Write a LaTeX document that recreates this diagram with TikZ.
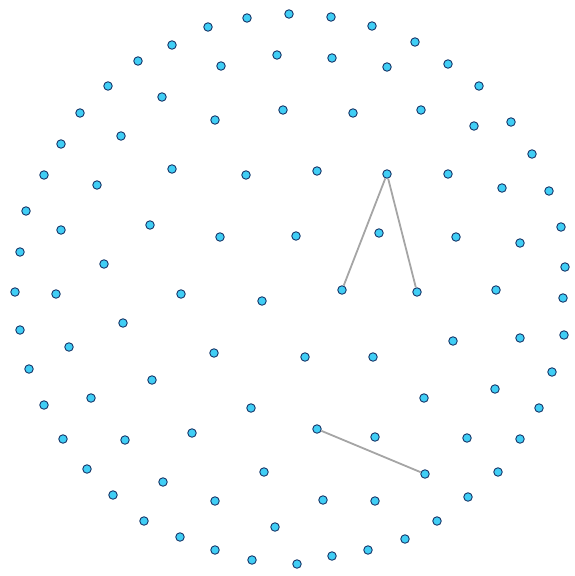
\documentclass[tikz,border=0pt]{standalone}
\usepackage{xcolor}
\usepackage{tikz}

\definecolor{dotfill}{RGB}{64,206,245}
\definecolor{dotline}{RGB}{25,55,105}
\definecolor{linkgray}{RGB}{165,165,165}

\begin{document}
\begin{tikzpicture}[x=1pt,y=-1pt,
  dot/.style={circle,inner sep=0pt,minimum size=8.5pt,fill=dotfill,draw=dotline,line width=0.9pt},
  link/.style={linkgray,line width=1.8pt}]
  \useasboundingbox (0,0) rectangle (575,576);
  % outer ring
  \foreach \x/\y [count=\i] in {289/14,247/18,331/17,208/27,372/26,172/45,415/42,138/61,448/64,
      108/86,479/86,80/113,511/122,61/144,532/154,44/175,549/191,26/211,561/227,20/252,
      565/267,15/292,563/298,20/330,564/335,29/369,552/372,44/405,539/408,63/439,520/439,
      87/469,498/472,113/495,468/497,144/521,437/521,180/537,405/539,215/550,368/550,
      252/560,332/556,297/564}
    \node[dot] (r\i) at (\x,\y) {};
  % inner dots
  \foreach \x/\y [count=\i] in {221/66,277/55,332/58,387/67,
      162/97,121/136,215/120,283/110,353/113,421/110,474/126,
      97/185,172/169,246/175,317/171,448/174,502/188,
      61/230,150/225,220/237,296/236,379/233,456/237,520/243,104/264,
      56/294,181/294,262/301,496/290,
      123/323,69/347,214/353,305/357,373/357,453/341,520/338,
      152/380,91/398,251/408,424/398,495/389,
      125/440,192/433,375/437,467/438,
      163/482,264/472,215/501,323/500,375/501,275/527}
    \node[dot] (d\i) at (\x,\y) {};
  % linked dots
  \node[dot] (apex) at (387,174) {};
  \node[dot] (legl) at (342,290) {};
  \node[dot] (legr) at (417,292) {};
  \node[dot] (tail) at (317,429) {};
  \node[dot] (head) at (425,474) {};
  \draw[link] (apex) -- (legl);
  \draw[link] (apex) -- (legr);
  \draw[link] (tail) -- (head);
\end{tikzpicture}
\end{document}
